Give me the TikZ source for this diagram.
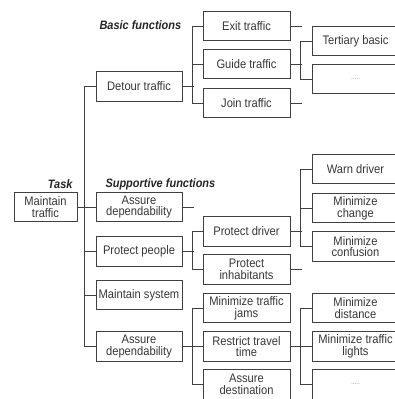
\documentclass[tikz,border=0pt]{standalone}
\usepackage{fontspec}
\setmainfont{Liberation Sans}[FakeStretch=0.9]
\begin{document}
\begin{tikzpicture}[x=1pt,y=-1pt,
  line width=1pt,
  ink/.style={draw=black!75},
  fbox/.style={ink, rectangle, inner sep=0pt, minimum width=87pt, minimum height=29.5pt,
    align=center, text=black!78, font=\fontsize{12.4}{11.8}\selectfont},
  lone/.style={fbox, minimum width=86pt},
  ltwo/.style={fbox, minimum width=87pt},
  lthree/.style={fbox, minimum width=87pt},
  head/.style={font=\fontsize{12.2}{12.6}\selectfont\bfseries\itshape, text=black!85, inner sep=0pt},
  dots/.style={font=\fontsize{7}{8}\selectfont, text=black!45},
  wire/.style={ink, line width=1pt}]
\useasboundingbox (0,0) rectangle (395,399);
\clip (0,0) rectangle (395,399);
\fill[white] (0,0) rectangle (395,399);

% headings
\node[head, anchor=west] (hb) at (99,25) {Basic functions};
\node[head, anchor=east] (ht) at (73,184) {Task};
\node[head, anchor=west] (hs) at (105,184) {Supportive functions};

% root
\node[fbox, minimum width=63pt] (mt) at (45.5,207) {Maintain\\traffic};

% first level
\node[lone] (dt)  at (139,86.5) {Detour traffic};
\node[lone] (ad1) at (139,207)  {Assure\\dependability};
\node[lone] (pp)  at (139,251.5){Protect people};
\node[lone] (ms)  at (139,295)  {Maintain system};
\node[lone] (ad2) at (139,346.5){Assure\\dependability};

% second level
\node[ltwo] (ex) at (246.5,26)  {Exit traffic};
\node[ltwo] (gt) at (246.5,64)  {Guide traffic};
\node[ltwo] (jt) at (246.5,103) {Join traffic};
\node[ltwo] (pd) at (246.5,231.5){Protect driver};
\node[ltwo] (pi) at (246.5,269.5){Protect\\inhabitants};
\node[ltwo] (mj) at (246.5,308) {Minimize traffic\\jams};
\node[ltwo] (rt) at (246.5,346.5){Restrict travel\\time};
\node[ltwo] (as) at (246.5,384.5){Assure\\destination};

% third level
\node[lthree] (tb) at (355.5,41)  {Tertiary basic};
\node[lthree] (d1) at (355.5,79)  {};
\node[dots] at (d1) {.....};
\node[lthree] (wd) at (355.5,169) {Warn driver};
\node[lthree] (mc) at (355.5,208) {Minimize\\change};
\node[lthree] (mf) at (355.5,246.5){Minimize\\confusion};
\node[lthree] (md) at (355.5,308) {Minimize\\distance};
\node[lthree] (ml) at (355.5,346.5){Minimize traffic\\lights};
\node[lthree] (d2) at (355.5,384.5){};
\node[dots] at (d2) {.....};

% trunk from the root
\draw[wire] (mt.east) -- (ad1.west);
\draw[wire] (dt.west) -- ++(-11,0) |- (ad2.west);
\draw[wire] (pp.west) -- ++(-11,0);
\draw[wire] (ms.west) -- ++(-11,0);

% first level to second level
\draw[wire] (dt.east) -- ++(11,0);
\draw[wire] (ex.west) -- ++(-10,0) |- (jt.west);
\draw[wire] (gt.west) -- ++(-10,0);
\draw[wire] (ad1.east) -- ++(11,0);
\draw[wire] (pp.east) -- ++(11,0);
\draw[wire] (pd.west) -- ++(-10,0) |- (pi.west);
\draw[wire] (ad2.east) -- ++(11,0);
\draw[wire] (mj.west) -- ++(-10,0) |- (as.west);
\draw[wire] (rt.west) -- ++(-10,0);

% second level stubs and links to third level
\draw[wire] (ex.east) -- ++(11,0);
\draw[wire] (jt.east) -- ++(11,0);
\draw[wire] (pi.east) -- ++(11,0);
\draw[wire] (gt.east) -- ++(11,0);
\draw[wire] (tb.west) -- ++(-11,0) |- (d1.west);
\draw[wire] (pd.east) -- ++(11,0);
\draw[wire] (wd.west) -- ++(-11,0) |- (mf.west);
\draw[wire] (mc.west) -- ++(-11,0);
\draw[wire] (rt.east) -- ++(11,0);
\draw[wire] (md.west) -- ++(-11,0) |- (d2.west);
\draw[wire] (ml.west) -- ++(-11,0);
\end{tikzpicture}
\end{document}
